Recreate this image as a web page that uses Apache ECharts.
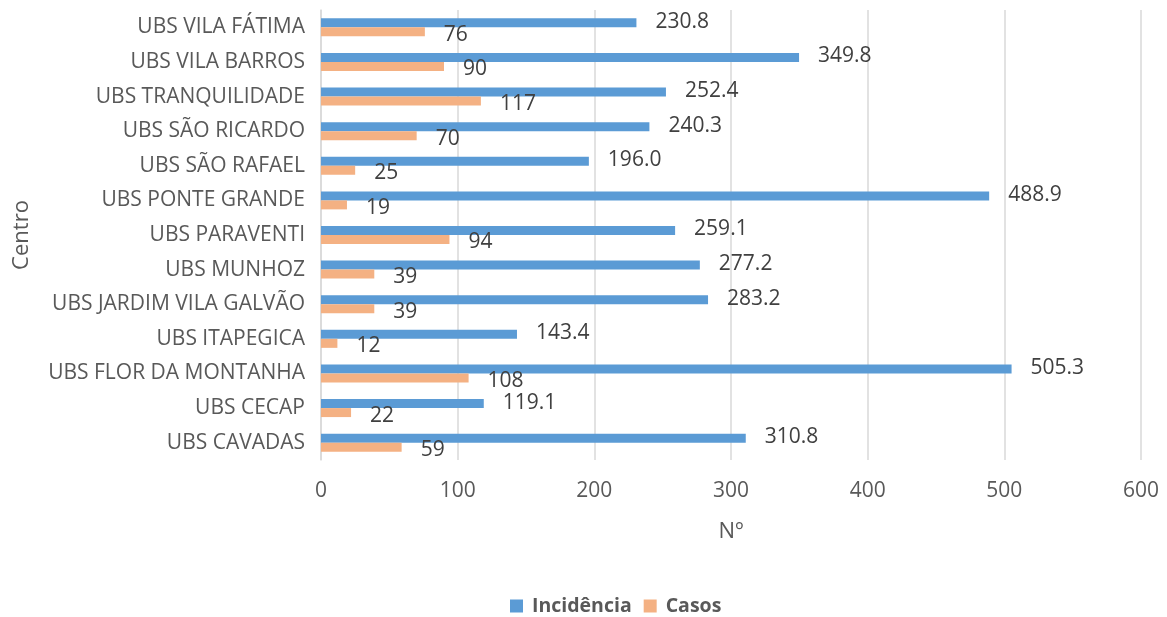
<!DOCTYPE html>
<html><head><meta charset="utf-8">
<script src="https://cdn.jsdelivr.net/npm/echarts@6/dist/echarts.min.js"></script>
<style>html,body{margin:0;padding:0;background:#fff}#c{width:1167px;height:617px}</style>
</head><body><div id="c"></div>
<script>
const categories = ["UBS CAVADAS","UBS CECAP","UBS FLOR DA MONTANHA","UBS ITAPEGICA","UBS JARDIM VILA GALVÃO","UBS MUNHOZ","UBS PARAVENTI","UBS PONTE GRANDE","UBS SÃO RAFAEL","UBS SÃO RICARDO","UBS TRANQUILIDADE","UBS VILA BARROS","UBS VILA FÁTIMA"];
const incidencia = [310.8,119.1,505.3,143.4,283.2,277.2,259.1,488.9,196.0,240.3,252.4,349.8,230.8];
const casos = [59,22,108,12,39,39,94,19,25,70,117,90,76];
const xTicks = [0,100,200,300,400,500,600];
const seriesNames = ["Incidência","Casos"];

const font = "'Open Sans', 'Noto Sans', sans-serif";
const chart = echarts.init(document.getElementById('c'));
chart.setOption({
  animation:false,
  textStyle:{fontFamily:font},
  grid:{left:321,right:26,top:10,bottom:157,outerBoundsMode:'none',containLabel:false},
  legend:{
    data:seriesNames, top:591, left:505, itemWidth:13, itemHeight:13, itemGap:12,
    icon:'rect',
    textStyle:{fontFamily:font,fontSize:19.5,fontWeight:'bold',color:'#595959',padding:[0,0,0,4]}
  },
  xAxis:{
    type:'value', min:xTicks[0], max:xTicks[xTicks.length-1], interval:100,
    name:'Nº', nameLocation:'middle', nameGap:61,
    nameTextStyle:{fontFamily:font,fontSize:22,color:'#595959',verticalAlign:'top'},
    axisLine:{show:false}, axisTick:{show:false},
    axisLabel:{fontFamily:font,fontSize:21,color:'#595959',margin:21},
    splitLine:{lineStyle:{color:'#d9d9d9',width:1.5}}
  },
  yAxis:{
    type:'category', data:categories,
    name:'Centro', nameLocation:'middle', nameGap:288, nameRotate:90,
    nameTextStyle:{fontFamily:font,fontSize:22,color:'#595959'},
    axisLine:{show:true,lineStyle:{color:'#d9d9d9',width:1.5}}, axisTick:{show:false},
    axisLabel:{fontFamily:font,fontSize:21,color:'#595959',margin:16}
  },
  series:[
    {name:seriesNames[0], type:'bar', data:incidencia, barWidth:9, barGap:'0%',
     itemStyle:{color:'#5b9bd5'},
     label:{show:true,position:'right',distance:19,offset:[0,-1],fontFamily:font,fontSize:21,color:'#404040',
       formatter:p=>p.value.toFixed(1)}},
    {name:seriesNames[1], type:'bar', data:casos, barWidth:9,
     itemStyle:{color:'#f4b183'},
     label:{show:true,position:'right',distance:19,offset:[0,3],fontFamily:font,fontSize:21,color:'#404040'}}
  ]
});
</script></body></html>
